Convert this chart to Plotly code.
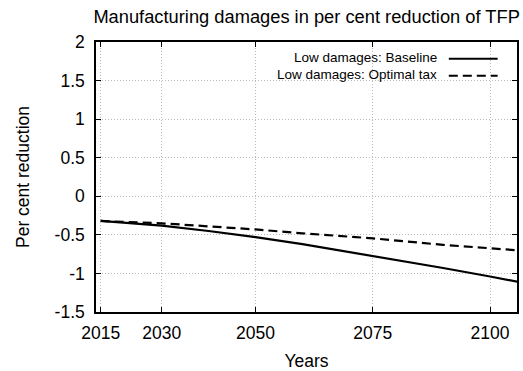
import plotly.graph_objects as go

# data
years = [2017, 2030, 2040, 2050, 2060, 2075, 2090, 2100, 2106]
baseline = [-0.32, -0.38, -0.45, -0.53, -0.62, -0.77, -0.93, -1.04, -1.11]
optimal_tax = [-0.32, -0.35, -0.39, -0.43, -0.48, -0.545, -0.63, -0.675, -0.70]

x_tick_pos = [2017, 2030, 2050, 2075, 2100]
x_tick_text = ["2015", "2030", "2050", "2075", "2100"]
y_tick_pos = [-1.5, -1, -0.5, 0, 0.5, 1, 1.5, 2]
y_tick_text = ["-1.5", "-1", "-0.5", "0", "0.5", "1", "1.5", "2"]

FONT = "Liberation Sans, Arial, sans-serif"
BIG = 17.5

fig = go.Figure()
fig.add_trace(go.Scatter(x=years, y=baseline, mode="lines", name="Low damages: Baseline",
                         line=dict(color="black", width=2.2), showlegend=False))
fig.add_trace(go.Scatter(x=years, y=optimal_tax, mode="lines", name="Low damages: Optimal tax",
                         line=dict(color="black", width=2.2, dash="9px,5px"), showlegend=False))

# gnuplot-style key: blank box, text right-aligned, sample line on the right
fig.add_shape(type="rect", xref="paper", yref="paper", x0=0.323, x1=0.979, y0=0.841, y1=0.985,
              fillcolor="white", line_width=0, layer="between")
key = [("Low damages: Baseline", 0.944, "solid"), ("Low damages: Optimal tax", 0.881, "9px,5px")]
for label, ky, dash in key:
    fig.add_annotation(x=0.81, y=ky, xref="paper", yref="paper", text=label, showarrow=False,
                       xanchor="right", yanchor="middle", xshift=2, font=dict(size=13.5, color="black"))
    fig.add_shape(type="line", xref="paper", yref="paper", x0=0.838, x1=0.954, y0=ky - 0.006,
                  y1=ky - 0.006, line=dict(color="black", width=2.2, dash=dash))

axis_style = dict(showline=True, linecolor="black", linewidth=1.5, mirror="ticks",
                  ticks="inside", ticklen=5, tickcolor="black", tickwidth=1,
                  showgrid=True, gridcolor="#bbbbbb", griddash="1px,2px", gridwidth=1,
                  zeroline=False, automargin=False, tickfont=dict(size=BIG, color="black"))

fig.update_xaxes(range=[2016, 2105.75], tickvals=x_tick_pos, ticktext=x_tick_text, ticklabelstandoff=4,
                 title=dict(text="Years", font=dict(size=BIG, color="black")),
                 **axis_style)
fig.update_yaxes(range=[-1.5, 2], tickvals=y_tick_pos, ticktext=y_tick_text, ticklabelstandoff=6,
                 title=dict(text="Per cent reduction", font=dict(size=BIG, color="black"), standoff=20),
                 **axis_style)

fig.update_layout(width=523, height=371, template="plotly_white",
                  font=dict(family=FONT, color="black"),
                  title=dict(text="Manufacturing damages in per cent reduction of TFP",
                             x=0.994, xanchor="right", y=0.955, yanchor="middle",
                             font=dict(size=18.3, color="black")),
                  margin=dict(l=96, r=6, t=42, b=59),
                  plot_bgcolor="white", paper_bgcolor="white")

# drop the browser's default body margin so the figure sits at the page corner
fig.write_html("out.html", config={"displayModeBar": False},
               post_script="document.body.style.margin = '0';")
